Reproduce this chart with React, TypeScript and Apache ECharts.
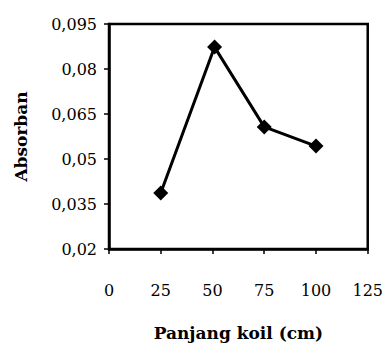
import React, { useEffect, useRef } from "react";
import * as echarts from "echarts";

const coilLength = [25, 51, 75, 100];
const absorbance = [0.0387, 0.0873, 0.0607, 0.0543];
const xTicks = [0, 25, 50, 75, 100, 125];
const yTicks = [0.02, 0.035, 0.05, 0.065, 0.08, 0.095];

const FONT = "DejaVu Serif";

export default function App() {
  const ref = useRef<HTMLDivElement>(null);
  useEffect(() => {
    if (!ref.current) return;
    const chart = echarts.init(ref.current, undefined, { renderer: "svg" });
    const fmt = (v: number) => String(+v.toFixed(3)).replace(".", ",");
    chart.setOption({
      animation: false,
      backgroundColor: "#fff",
      grid: {
        left: 109,
        right: 13,
        top: 24,
        bottom: 97,
        show: true,
        borderColor: "#000",
        borderWidth: 2.5,
        backgroundColor: "transparent",
      },
      xAxis: {
        type: "value",
        min: xTicks[0],
        max: xTicks[xTicks.length - 1],
        interval: 25,
        name: "Panjang koil (cm)",
        nameLocation: "middle",
        nameGap: 75,
        nameTextStyle: { fontFamily: FONT, fontSize: 17, fontWeight: "bold", color: "#000" },
        axisLine: { show: true, lineStyle: { color: "#000", width: 2.5 } },
        axisTick: { show: true, length: 5, lineStyle: { color: "#000", width: 1.5 } },
        axisLabel: { fontFamily: FONT, fontSize: 16, color: "#000", margin: 33 },
        splitLine: { show: false },
      },
      yAxis: {
        type: "value",
        min: yTicks[0],
        max: yTicks[yTicks.length - 1],
        interval: 0.015,
        name: "Absorban",
        nameLocation: "middle",
        nameGap: 80,
        nameTextStyle: { fontFamily: FONT, fontSize: 17, fontWeight: "bold", color: "#000" },
        axisLine: { show: true, lineStyle: { color: "#000", width: 2.5 } },
        axisTick: { show: true, length: 5, lineStyle: { color: "#000", width: 1.5 } },
        axisLabel: { fontFamily: FONT, fontSize: 16, color: "#000", margin: 12, formatter: fmt },
        splitLine: { show: false },
      },
      series: [
        {
          type: "line",
          data: coilLength.map((x, i) => [x, absorbance[i]]),
          symbol: "diamond",
          symbolSize: 15,
          itemStyle: { color: "#000" },
          lineStyle: { color: "#000", width: 3 },
        },
      ],
    });
    return () => chart.dispose();
  }, []);
  return (
    <div
      ref={ref}
      style={{ position: "absolute", left: 0, top: 0, width: 386, height: 346 }}
    />
  );
}
